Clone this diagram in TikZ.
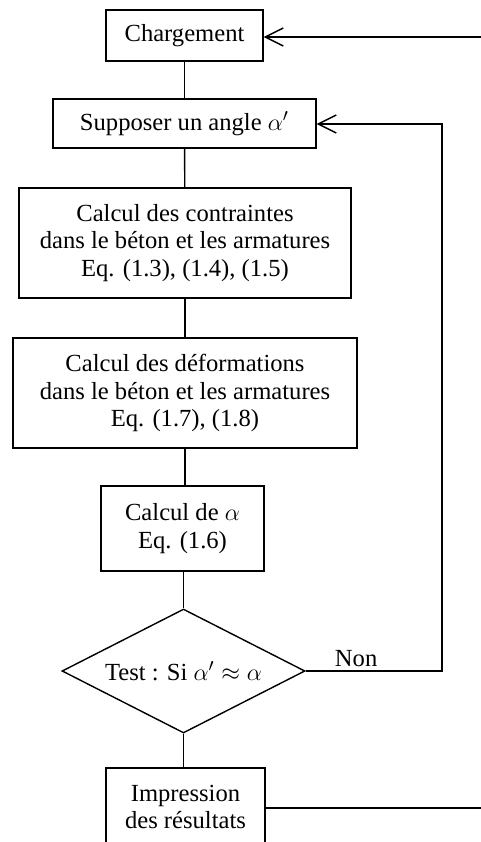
\documentclass[tikz,border=0pt]{standalone}
\usepackage{fontspec}
\setmainfont{Liberation Serif}
\usepackage{tikz}
\usetikzlibrary{shapes.geometric, arrows.meta, positioning, calc}

\begin{document}
\begin{tikzpicture}[
    x=0.5pt, y=-0.5pt,
    box/.style={rectangle, draw=black, line width=0.7pt, inner sep=0pt, align=center, font=\fontsize{12.3}{13.8}\selectfont},
    test/.style={diamond, draw=black, line width=0.7pt, inner sep=0pt, aspect=2, minimum width=121.5pt, minimum height=62pt, font=\fontsize{12.3}{13.8}\selectfont},
    link/.style={line width=0.7pt},
    arrow/.style={line width=0.7pt, -{Straight Barb[length=9pt, width=9pt, line width=0.7pt]}}
]
\useasboundingbox (0,0) rectangle (481,842);

\node[box, minimum width=78.5pt, minimum height=25.5pt] (charge) at (184.5, 35.5) {Chargement};
\node[box, minimum width=131.5pt, minimum height=24.5pt] (suppose) at (184.5, 123.5) {Supposer un angle $\alpha'$};
\node[box, minimum width=166pt, minimum height=55pt] (contraintes) at (185, 243) {Calcul des contraintes\\dans le béton et les armatures\\Eq. (1.3), (1.4), (1.5)};
\node[box, minimum width=172pt, minimum height=55pt] (deformations) at (185, 393) {Calcul des déformations\\dans le béton et les armatures\\Eq. (1.7), (1.8)};
\node[box, minimum width=81.5pt, minimum height=42.5pt] (alpha) at (182.5, 528.5) {Calcul de $\alpha$\\Eq. (1.6)};
\node[test] (test) at (183.5, 671) {Test : Si $\alpha'\approx\alpha$};
\node[box, minimum width=79.5pt, minimum height=39pt] (impression) at (185.5, 807) {Impression\\des résultats};

\coordinate (retour) at (481, 37);
\coordinate (boucle) at (442, 124);
\coordinate (sortie) at (481, 808);

\draw[link] (charge) -- (suppose);
\draw[link] (suppose) -- (contraintes);
\draw[link] (contraintes) -- (deformations);
\draw[link] (deformations.south) -- (deformations.south |- alpha.north);
\draw[link] (test.north |- alpha.south) -- (test.north);
\draw[link] (test.south) -- (impression.north -| test.south);
\draw[arrow] (test.east) -- node[above, pos=0.37, inner sep=2pt, font=\fontsize{12.3}{13.8}\selectfont] {Non} (test.east -| boucle) -- (boucle) -- (suppose.east |- boucle);
\draw[arrow] (retour) -- (charge.east |- retour);
\draw[link] (impression.east |- sortie) -- (sortie);

\end{tikzpicture}
\end{document}
